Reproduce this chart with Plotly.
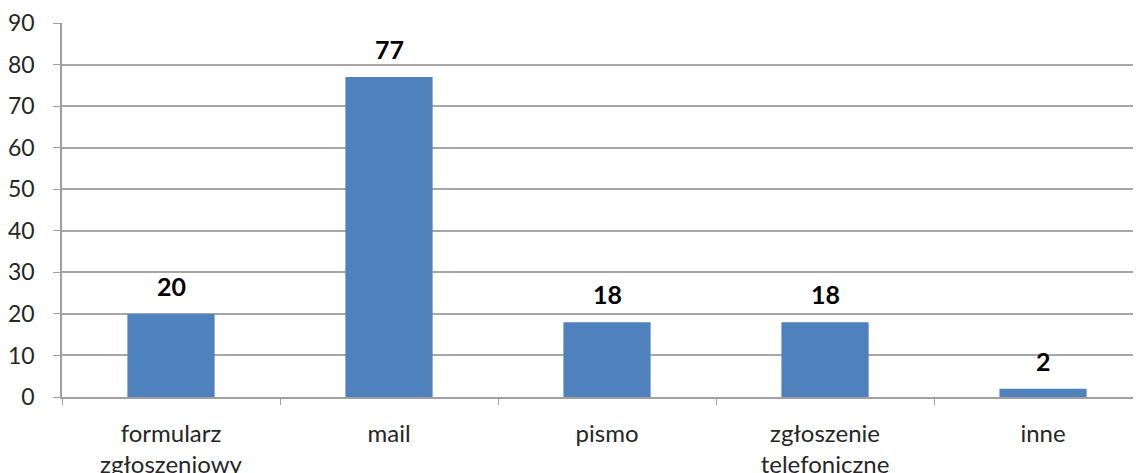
import plotly.graph_objects as go

categories = ["formularz<br>zgłoszeniowy", "mail", "pismo", "zgłoszenie<br>telefoniczne", "inne"]
values = [20, 77, 18, 18, 2]
y_ticks = [0, 10, 20, 30, 40, 50, 60, 70, 80, 90]

FONT = "Lato"

fig = go.Figure(go.Bar(
    x=categories, y=values,
    marker=dict(color="#4F81BD", line=dict(width=0)),
    width=0.4,
    cliponaxis=False,
))

for c, v in zip(categories, values):
    fig.add_annotation(
        x=c, y=v, text=f"<b>{v}</b>", showarrow=False,
        yanchor="bottom", yshift=11,
        font=dict(family=FONT, size=25, color="#000000"),
    )

# the page body adds an 8px offset, so margins are reduced by 8px
fig.update_layout(
    width=1141, height=473,
    margin=dict(l=54, r=0, t=15, b=84, autoexpand=False),
    paper_bgcolor="white", plot_bgcolor="white",
    font=dict(family=FONT, size=22, color="#262626"),
    showlegend=False,
    bargap=0.6,
)
fig.update_xaxes(
    range=[-0.5, 4.486], automargin=False,
    showline=True, linecolor="#A0A0A0", linewidth=1.5,
    ticks="outside", tickson="boundaries", ticklen=6, tickcolor="#A0A0A0",
    showgrid=False, ticklabelstandoff=14,
    tickfont=dict(family=FONT, size=24, color="#262626"),
)
fig.update_yaxes(
    range=[0, 90], tickvals=y_ticks, automargin=False,
    showline=True, linecolor="#A0A0A0", linewidth=1.5,
    ticks="outside", ticklen=7, tickcolor="#A0A0A0",
    showgrid=True, gridcolor="#A6A6A6", gridwidth=1.5,
    zeroline=False, ticklabelstandoff=14,
    tickfont=dict(family=FONT, size=23, color="#262626"),
)

fig.write_html("out.html")
